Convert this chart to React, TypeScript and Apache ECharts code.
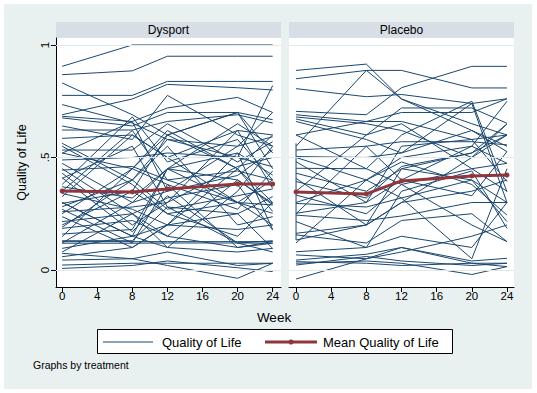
import React, { useEffect, useRef } from "react";
import * as echarts from "echarts";

const weeks = [0, 8, 12, 20, 24];
const xTicks = [0, 4, 8, 12, 16, 20, 24];
const yTicks = [0, 0.5, 1];
const yTickLabels = ["0", ".5", "1"];
const panelNames = ["Dysport", "Placebo"];

const dysportQoL: number[][] = [
  [0.905, 1.0, 1.0, 1.0, 1.0],
  [0.868, 0.885, 0.95, 0.95, 0.95],
  [0.776, 0.776, 0.838, 0.838, 0.838],
  [0.69, 0.76, 0.825, 0.81, 0.8],
  [0.831, 0.69, 0.6, 0.45, 0.3],
  [0.735, 0.653, 0.58, 0.5, 0.82],
  [0.64, 0.58, 0.776, 0.6, 0.55],
  [0.683, 0.66, 0.72, 0.767, 0.7],
  [0.676, 0.64, 0.7, 0.7, 0.668],
  [0.622, 0.622, 0.66, 0.69, 0.653],
  [0.585, 0.6, 0.5, 0.62, 0.6],
  [0.563, 0.4, 0.58, 0.55, 0.592],
  [0.533, 0.533, 0.65, 0.48, 0.57],
  [0.519, 0.66, 0.35, 0.42, 0.533],
  [0.489, 0.5, 0.52, 0.5, 0.459],
  [0.474, 0.3, 0.45, 0.52, 0.422],
  [0.444, 0.46, 0.4, 0.44, 0.4],
  [0.43, 0.2, 0.3, 0.62, 0.363],
  [0.407, 0.55, 0.28, 0.25, 0.326],
  [0.37, 0.32, 0.45, 0.4, 0.296],
  [0.326, 0.6, 0.5, 0.3, 0.289],
  [0.3, 0.15, 0.2, 0.45, 0.6],
  [0.296, 0.35, 0.25, 0.3, 0.252],
  [0.281, 0.4, 0.55, 0.2, 0.237],
  [0.259, 0.28, 0.3, 0.46, 0.5],
  [0.237, 0.1, 0.2, 0.18, 0.2],
  [0.215, 0.25, 0.32, 0.38, 0.178],
  [0.185, 0.22, 0.15, 0.1, 0.126],
  [0.148, 0.45, 0.38, 0.1, 0.119],
  [0.126, 0.126, 0.126, 0.126, 0.126],
  [0.119, 0.119, 0.12, 0.12, 0.119],
  [0.096, 0.15, 0.1, 0.08, 0.096],
  [0.074, 0.05, 0.08, 0.02, 0.03],
  [0.022, 0.03, 0.03, 0.03, 0.03],
  [0.044, 0.05, 0.02, -0.037, 0.03],
  [0.007, 0.02, 0.04, 0.01, -0.007],
  [0.059, 0.1, 0.2, 0.25, 0.096],
  [0.35, 0.62, 0.4, 0.3, 0.2],
  [0.3, 0.15, 0.45, 0.65, 0.55],
  [0.2, 0.35, 0.6, 0.7, 0.45],
  [0.45, 0.25, 0.1, 0.35, 0.55],
  [0.55, 0.38, 0.25, 0.15, 0.3],
  [0.12, 0.3, 0.35, 0.55, 0.7],
  [0.38, 0.68, 0.48, 0.58, 0.4],
  [0.25, 0.45, 0.62, 0.45, 0.26],
  [0.16, 0.18, 0.45, 0.3, 0.4],
  [0.52, 0.45, 0.6, 0.7, 0.52],
  [0.08, 0.25, 0.15, 0.4, 0.29],
  [0.13, 0.13, 0.28, 0.12, 0.13],
  [0.27, 0.12, 0.38, 0.27, 0.44],
  [0.34, 0.27, 0.2, 0.52, 0.18],
  [0.19, 0.4, 0.27, 0.33, 0.36],
  [0.41, 0.17, 0.33, 0.12, 0.08],
];

const placeboQoL: number[][] = [
  [0.887, 0.915, 0.76, 0.65, 0.6],
  [0.85, 0.887, 0.887, 0.809, 0.809],
  [0.806, 0.77, 0.78, 0.74, 0.761],
  [0.55, 0.887, 0.76, 0.62, 0.55],
  [0.705, 0.69, 0.81, 0.905, 0.905],
  [0.69, 0.66, 0.7, 0.7, 0.761],
  [0.68, 0.65, 0.62, 0.5, 0.649],
  [0.671, 0.6, 0.72, 0.72, 0.652],
  [0.66, 0.58, 0.52, 0.74, 0.3],
  [0.6, 0.66, 0.66, 0.58, 0.6],
  [0.533, 0.55, 0.57, 0.57, 0.556],
  [0.504, 0.5, 0.52, 0.62, 0.526],
  [0.5, 0.4, 0.5, 0.55, 0.474],
  [0.481, 0.3, 0.55, 0.58, 0.393],
  [0.452, 0.45, 0.6, 0.75, 0.348],
  [0.43, 0.35, 0.45, 0.4, 0.3],
  [0.407, 0.2, 0.3, 0.5, 0.6],
  [0.393, 0.32, 0.46, 0.52, 0.649],
  [0.333, 0.25, 0.38, 0.45, 0.474],
  [0.3, 0.4, 0.48, 0.38, 0.244],
  [0.296, 0.28, 0.32, 0.4, 0.215],
  [0.252, 0.3, 0.4, 0.33, 0.526],
  [0.244, 0.22, 0.24, 0.3, 0.3],
  [0.215, 0.1, 0.35, 0.44, 0.185],
  [0.163, 0.2, 0.45, 0.52, 0.6],
  [0.156, 0.12, 0.22, 0.25, 0.126],
  [0.081, 0.1, 0.15, 0.1, 0.3],
  [0.067, 0.05, 0.1, 0.04, 0.052],
  [0.044, 0.07, 0.1, 0.03, 0.03],
  [0.037, 0.03, 0.02, 0.03, 0.015],
  [0.03, 0.04, 0.03, -0.02, 0.015],
  [0.022, 0.06, 0.04, 0.02, 0.03],
  [-0.04, 0.05, 0.08, 0.15, 0.2],
  [0.35, 0.6, 0.65, 0.45, 0.35],
  [0.6, 0.45, 0.38, 0.2, 0.126],
  [0.25, 0.55, 0.4, 0.55, 0.75],
  [0.12, 0.4, 0.32, 0.05, 0.45],
];

// one placebo subject recorded twice at baseline
const placeboRepeatWeeks = [0, 0, 8, 12, 20, 24];
const placeboRepeatQoL = [0.563, 0.133, 0.2, 0.3, 0.35, 0.4];

const dysportMean = [0.351, 0.347, 0.36, 0.382, 0.382];
const placeboMean = [0.347, 0.338, 0.396, 0.418, 0.422];

const NAVY = "#1A476F";
const MAROON = "#90353B";
const FONT = "'Liberation Sans', Arial, sans-serif";

export default function App() {
  const ref = useRef<HTMLDivElement>(null);

  useEffect(() => {
    if (!ref.current) return;
    const chart = echarts.init(ref.current, undefined, { renderer: "svg" });

    const grids = [
      { left: 52, top: 34, width: 225, height: 249 },
      { left: 285, top: 34, width: 225, height: 249 },
    ];
    const xRanges = [
      [-0.7, 24.95],
      [-0.8, 24.8],
    ];

    const series: any[] = [];
    [0, 1].forEach((g) => {
      series.push({
        type: "line",
        xAxisIndex: g,
        yAxisIndex: g,
        data: [],
        silent: true,
        z: 1,
        markLine: {
          silent: true,
          symbol: "none",
          label: { show: false },
          lineStyle: { color: "#E3E9E9", width: 1, type: "solid" },
          data: yTicks.map((v) => ({ yAxis: v })),
        },
      });
    });

    const addSubject = (g: number, ws: number[], vals: number[]) => {
      series.push({
        type: "line",
        xAxisIndex: g,
        yAxisIndex: g,
        data: ws.map((w, i) => [w, vals[i]]),
        showSymbol: false,
        symbol: "none",
        silent: true,
        z: 2,
        lineStyle: { color: NAVY, width: 1 },
      });
    };
    dysportQoL.forEach((v) => addSubject(0, weeks, v));
    placeboQoL.forEach((v) => addSubject(1, weeks, v));
    addSubject(1, placeboRepeatWeeks, placeboRepeatQoL);

    [dysportMean, placeboMean].forEach((m, g) => {
      series.push({
        type: "line",
        xAxisIndex: g,
        yAxisIndex: g,
        data: weeks.map((w, i) => [w, m[i]]),
        symbol: "circle",
        symbolSize: 5,
        showSymbol: true,
        silent: true,
        z: 3,
        lineStyle: { color: MAROON, width: 3 },
        itemStyle: { color: MAROON },
      });
    });

    const textStyle = { color: "#000", fontFamily: FONT };

    chart.setOption({
      animation: false,
      backgroundColor: "#E9F0F0",
      grid: grids.map((g) => ({
        ...g,
        show: true,
        backgroundColor: "#FFFFFF",
        borderWidth: 0,
        containLabel: false,
      })),
      xAxis: [0, 1].map((g) => ({
        type: "value",
        gridIndex: g,
        min: xRanges[g][0],
        max: xRanges[g][1],
        position: "bottom",
        axisLine: { show: true, onZero: false, lineStyle: { color: "#000", width: 1 } },
        axisTick: { show: true, length: 5, customValues: xTicks, lineStyle: { color: "#000" } },
        axisLabel: {
          show: true,
          customValues: xTicks,
          margin: 3,
          fontSize: 11.5,
          ...textStyle,
        },
        splitLine: { show: false },
      })),
      yAxis: [0, 1].map((g) => ({
        type: "value",
        gridIndex: g,
        min: -0.0756,
        max: 1.031,
        name: g === 0 ? "Quality of Life" : "",
        nameLocation: "middle",
        nameGap: 28,
        nameRotate: 90,
        nameTextStyle: { fontSize: 12.5, ...textStyle },
        axisLine: { show: g === 0, onZero: false, lineStyle: { color: "#000", width: 1 } },
        axisTick: { show: g === 0, length: 5, customValues: yTicks, lineStyle: { color: "#000" } },
        axisLabel: {
          show: g === 0,
          customValues: yTicks,
          formatter: (v: number) => yTickLabels[yTicks.indexOf(v)] ?? "",
          rotate: 90,
          margin: 5,
          fontSize: 11.5,
          ...textStyle,
        },
        splitLine: { show: false },
      })),
      graphic: [
        ...grids.map((g, i) => ({
          type: "group",
          children: [
            {
              type: "rect",
              shape: { x: g.left, y: 18, width: g.width, height: 16 },
              style: { fill: "#D8DEE6" },
            },
            {
              type: "text",
              x: g.left + g.width / 2,
              y: 26,
              style: {
                text: panelNames[i],
                fill: "#000",
                font: `12px ${FONT}`,
                textAlign: "center",
                textVerticalAlign: "middle",
              },
            },
          ],
        })),
        {
          type: "text",
          x: 270,
          y: 313,
          style: {
            text: "Week",
            fill: "#000",
            font: `13.5px ${FONT}`,
            textAlign: "center",
            textVerticalAlign: "middle",
          },
        },
        {
          type: "rect",
          shape: { x: 93.5, y: 325.5, width: 355, height: 24 },
          style: { fill: "#FFFFFF", stroke: "#000", lineWidth: 1 },
        },
        {
          type: "line",
          shape: { x1: 99, y1: 338, x2: 149, y2: 338 },
          style: { stroke: NAVY, lineWidth: 1 },
        },
        {
          type: "text",
          x: 158,
          y: 338,
          style: {
            text: "Quality of Life",
            fill: "#000",
            font: `13px ${FONT}`,
            textAlign: "left",
            textVerticalAlign: "middle",
          },
        },
        {
          type: "line",
          shape: { x1: 261, y1: 338, x2: 313, y2: 338 },
          style: { stroke: MAROON, lineWidth: 3 },
        },
        {
          type: "circle",
          shape: { cx: 287, cy: 338, r: 2.5 },
          style: { fill: MAROON },
        },
        {
          type: "text",
          x: 319,
          y: 338,
          style: {
            text: "Mean Quality of Life",
            fill: "#000",
            font: `13px ${FONT}`,
            textAlign: "left",
            textVerticalAlign: "middle",
          },
        },
        {
          type: "text",
          x: 29,
          y: 361,
          style: {
            text: "Graphs by treatment",
            fill: "#000",
            font: `10.5px ${FONT}`,
            textAlign: "left",
            textVerticalAlign: "middle",
          },
        },
      ],
      series,
    });

    return () => chart.dispose();
  }, []);

  return (
    <div
      ref={ref}
      style={{ position: "fixed", left: 4, top: 4, width: 528, height: 385 }}
    />
  );
}
